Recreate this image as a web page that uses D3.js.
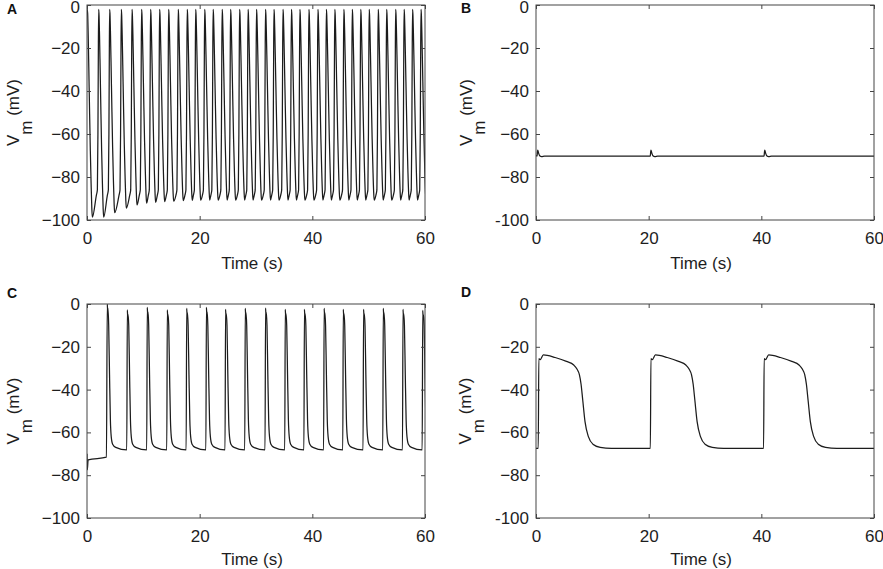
<!DOCTYPE html>
<html>
<head>
<meta charset="utf-8">
<script src="https://cdn.jsdelivr.net/npm/d3@7"></script>
<style>
  body { margin: 0; background: #fff; }
  svg { font-family: "Liberation Sans", Arial, Helvetica, sans-serif; }
  .tick text { fill: #1e1e1e; font-size: 17px; }
  .tick line { stroke: #444; }
</style>
</head>
<body>
<script>
// axes
var timeTicks = [0, 20, 40, 60];
var voltTicks = [0, -20, -40, -60, -80, -100];

// A: fast spiking, peak times (s) and the trough reached after each spike (mV)
var peakTimesA = [0.07, 2.08, 4.03, 6.1, 8.0, 9.7, 11.3, 12.9, 14.5, 16.2, 17.8, 19.3, 20.9,
  22.4, 24.0, 25.5, 27.1, 28.6, 30.1, 31.7, 33.2, 34.8, 36.3, 37.8, 39.4, 41.0, 42.5,
  44.0, 45.6, 47.1, 48.6, 50.1, 51.7, 53.2, 54.8, 56.3, 57.8, 59.3];
var troughA = [-98.7, -98.7, -96.6, -94.5, -93.0, -92.2, -91.8, -91.5, -91.2, -91.0, -90.9, -90.8, -90.7,
  -90.7, -90.7, -90.7, -90.7, -90.7, -90.7, -90.7, -90.7, -90.7, -90.7, -90.7, -90.7, -90.7, -90.7,
  -90.7, -90.7, -90.7, -90.7, -90.7, -90.7, -90.7, -90.7, -90.7, -90.7, -90.7];
var peakA = -2;
// downstroke: time after peak (s) and share of the fall from peak to trough
var downDtA = [0, 0.06, 0.14, 0.25, 0.38, 0.52, 0.66, 0.79, 0.88];
var downFracA = [0, 0.03, 0.12, 0.28, 0.48, 0.68, 0.84, 0.96, 1];
// slow rise and upstroke before the next peak: time before peak (s), mV
var riseDtA = [-0.42, -0.24, -0.14, -0.06];
var riseVA = [-88.5, -86, -60, -18];

// B: resting with small bumps
var bumpTimesB = [0.3, 20.4, 40.6];
var bumpDtB = [-0.12, 0, 0.15, 0.35, 0.7, 1.2];
var bumpVB = [-70.3, -67.5, -68.8, -70.1, -70.5, -70.3];
var restB = -70.3;

// C: slower spiking
var startC = [[0, -70], [0.06, -77.5], [0.2, -72.8], [3.45, -71.6]];
var peakTimesC = [3.6, 7.16, 10.7, 14.26, 17.7, 21.2, 24.6, 28.1, 31.7, 35.2, 38.6, 42.1,
  45.5, 49.1, 52.6, 56.1, 59.6];
var peakVC = [0, -2.8, -1.6, -2.8, -2, -1.6, -2.5, -2, -1.9, -2.5, -2.5, -2, -2.5, -2.5, -2, -2.5, -3];
var spikeDtC = [0.06, 0.12, 0.25, 0.4, 0.55, 0.7, 0.95, 1.5];
var spikeVC = [null, null, -10, -33, -54, -62, -65.5, -67];
var preSpikeC = -68.2;

// D: long plateaus
var upTimesD = [0.4, 20.3, 40.4];
var plateauDtD = [0, 0.1, 0.35, 0.9, 3, 5, 6.3, 6.9, 7.3, 7.6, 7.9, 8.3, 8.9, 9.7, 11, 13];
var plateauVD = [-67.5, -25.5, -26, -23.8, -25, -26.8, -28.5, -30.5, -33, -37.5, -45, -55, -62, -65.5, -67, -67.5];
var restD = -67.5;

// ---- build traces ----
var traceA = [[0, -3]];
peakTimesA.forEach(function (tp, i) {
  if (i > 0) {
    riseDtA.forEach(function (dt, k) { traceA.push([tp + dt, riseVA[k]]); });
  }
  downDtA.forEach(function (dt, k) {
    traceA.push([tp + dt, peakA + (troughA[i] - peakA) * downFracA[k]]);
  });
});

var traceB = [[0, -70]];
bumpTimesB.forEach(function (tb) {
  bumpDtB.forEach(function (dt, k) { traceB.push([tb + dt, bumpVB[k]]); });
});
traceB.push([60, restB]);

var traceC = startC.slice();
peakTimesC.forEach(function (tp, i) {
  if (i > 0) traceC.push([tp - 0.1, preSpikeC]);
  traceC.push([tp, peakVC[i]]);
  spikeDtC.forEach(function (dt, k) {
    var v = spikeVC[k];
    if (k === 0) v = peakVC[i] - 3;
    if (k === 1) v = peakVC[i] - 2;
    traceC.push([tp + dt, v]);
  });
});

var traceD = [[0, restD]];
upTimesD.forEach(function (tu) {
  plateauDtD.forEach(function (dt, k) { traceD.push([tu + dt, plateauVD[k]]); });
});
traceD.push([60, restD]);

var panels = [
  {id: 'A', left: 87, top: 5, h: 215, trace: traceA, hyphen: false, lx: 7, ly: 14, yl: 18.5, tl: 49},
  {id: 'B', left: 536, top: 5, h: 215, trace: traceB, hyphen: true, lx: 461, ly: 13, yl: 471.5, tl: 49},
  {id: 'C', left: 87, top: 304, h: 214, trace: traceC, hyphen: false, lx: 7, ly: 298, yl: 18.5, tl: 46.5},
  {id: 'D', left: 536, top: 304, h: 214, trace: traceD, hyphen: true, lx: 461, ly: 297, yl: 470.5, tl: 46.5}
];
var pw = 338;

var svg = d3.select('body').append('svg')
  .attr('width', 883)
  .attr('height', 569);

panels.forEach(function (p) {
  var x = d3.scaleLinear().domain([0, 60]).range([0, pw]);
  var y = d3.scaleLinear().domain([-100, 0]).range([p.h, 0]);
  var fmt = function (d) {
    if (d === 0) return '0';
    return (p.hyphen && d === -100 ? '-' : '\u2212') + Math.abs(d);
  };

  var g = svg.append('g').attr('transform', 'translate(' + p.left + ',' + p.top + ')');

  g.append('clipPath').attr('id', 'clip' + p.id)
    .append('rect').attr('width', pw).attr('height', p.h);

  g.append('path')
    .datum(p.trace)
    .attr('clip-path', 'url(#clip' + p.id + ')')
    .attr('fill', 'none')
    .attr('stroke', '#1c1c1c')
    .attr('stroke-width', 1.25)
    .attr('d', d3.line()
      .x(function (d) { return x(d[0]); })
      .y(function (d) { return y(d[1]); })
      .curve(d3.curveMonotoneX));

  g.append('g').attr('transform', 'translate(0,' + p.h + ')')
    .call(d3.axisBottom(x).tickValues(timeTicks).tickSize(-4).tickSizeOuter(0).tickPadding(12))
    .call(function (a) { a.select('.domain').remove(); });
  g.append('g')
    .call(d3.axisTop(x).tickValues(timeTicks).tickSize(-4).tickSizeOuter(0).tickFormat(''))
    .call(function (a) { a.select('.domain').remove(); });
  g.append('g')
    .call(d3.axisLeft(y).tickValues(voltTicks).tickSize(-4).tickSizeOuter(0).tickPadding(7).tickFormat(fmt))
    .call(function (a) {
      a.select('.domain').remove();
      // keep the top "0" inside the page
      if (p.top < 10) {
        a.selectAll('.tick').filter(function (d) { return d === 0; })
          .select('text').attr('dy', '0.42em');
      }
    });
  g.append('g').attr('transform', 'translate(' + pw + ',0)')
    .call(d3.axisRight(y).tickValues(voltTicks).tickSize(-4).tickSizeOuter(0).tickFormat(''))
    .call(function (a) { a.select('.domain').remove(); });

  g.append('rect')
    .attr('width', pw).attr('height', p.h)
    .attr('fill', 'none').attr('stroke', '#444').attr('stroke-width', 1);

  g.append('text')
    .attr('x', pw / 2 - 4).attr('y', p.h + p.tl)
    .attr('text-anchor', 'middle')
    .attr('font-size', 17).attr('fill', '#1e1e1e')
    .text('Time (s)');

  var yl = svg.append('text')
    .attr('transform', 'translate(' + p.yl + ',' + (p.top + p.h / 2) + ') rotate(-90)')
    .attr('text-anchor', 'middle')
    .attr('font-size', 17).attr('fill', '#1e1e1e');
  yl.append('tspan').text('V');
  yl.append('tspan').attr('dy', 13).text('m');
  yl.append('tspan').attr('dy', -13).text(' (mV)');

  svg.append('text')
    .attr('x', p.lx).attr('y', p.ly)
    .attr('font-size', 14).attr('font-weight', 'bold').attr('fill', '#111')
    .text(p.id);
});
</script>
</body>
</html>
